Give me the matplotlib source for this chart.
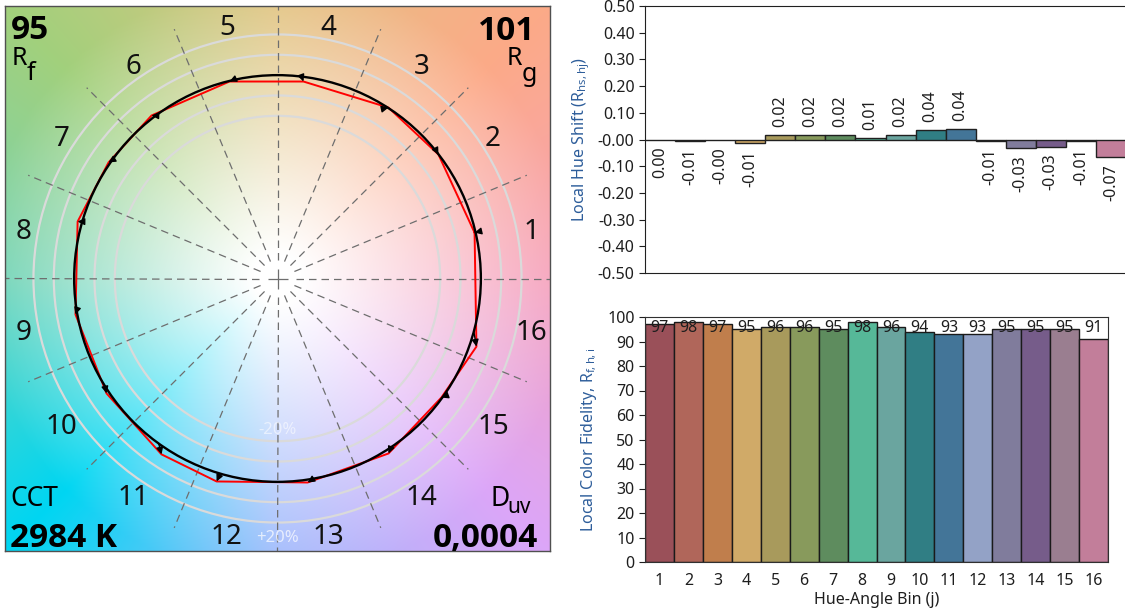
""" TM-30 colour vector graphic with local hue shift and local fidelity bars """

import numpy as np
import matplotlib
matplotlib.use("Agg")
import matplotlib.pyplot as plt
from matplotlib.colors import to_rgb
from matplotlib.patches import Circle, FancyArrowPatch

plt.rcParams['font.family'] = ['Noto Sans', 'DejaVu Sans']
plt.rcParams['axes.unicode_minus'] = False
plt.rcParams['mathtext.fontset'] = 'custom'
plt.rcParams['mathtext.rm'] = 'Noto Sans'
plt.rcParams['mathtext.it'] = 'Noto Sans'

BOLD = 'Open Sans'


#:::: Data
#:::::::::
bins = np.arange(1, 17)
fidelity = [97, 98, 97, 95, 96, 96, 95, 98, 96, 94, 93, 93, 95, 95, 95, 91]
hue_shift = [0.000, -0.006, -0.002, -0.012, 0.016, 0.016, 0.018, 0.006,
             0.018, 0.036, 0.041, -0.006, -0.032, -0.027, -0.006, -0.066]
bin_colors = ['#9a5059', '#b0665a', '#c07e4c', '#d0aa68', '#a89a5c', '#889a5c',
              '#5e8c5e', '#56b898', '#6aa59f', '#307e84', '#437598', '#93a2c6',
              '#807c9c', '#765c8a', '#9a7e90', '#c27e9a']

# test (red) points of the vector graphic, reference is the unit circle
test_angle = [13.1, 37.6, 57.0, 82.5, 103.7, 127.7, 145.5, 164.1,
              190.1, 213.9, 236.6, 253.3, 278.4, 302.4, 324.0, 341.1]
test_radius = [0.995, 0.999, 1.002, 0.977, 0.997, 1.013, 1.008, 1.022,
               1.009, 1.013, 1.036, 1.042, 1.014, 1.019, 0.996, 1.034]

rf_value = "95"
rg_value = "101"
cct_value = "2984 K"
duv_value = "0,0004"

# background hue colours around the graphic
bg_angles = [0, 45, 90, 135, 180, 225, 270, 315, 360]
bg_colors = ['#f6a2bc', '#fcaa88', '#e2c482', '#a2d07c', '#72d4b6',
             '#00d6f2', '#a0bafc', '#dca6f8', '#f6a2bc']

LIM = 1.34


def background():
    g = np.linspace(-LIM, LIM, 600)
    X, Y = np.meshgrid(g, g)
    ang = np.degrees(np.arctan2(Y, X)) % 360
    r = np.hypot(X, Y)
    rgb = np.array([to_rgb(c) for c in bg_colors])
    col = np.stack([np.interp(ang, bg_angles, rgb[:, i]) for i in range(3)], axis=-1)
    mix = np.clip((r - 0.12) / 1.35, 0, 1)[..., None]
    return 1 - mix * (1 - col)


fig = plt.figure(figsize=(11.25, 6.16), dpi=100)

#:::: Colour vector graphic
#::::::::::::::::::::::::::
ax = fig.add_axes([5 / 1125, 65 / 616, 545 / 1125, 545 / 616])
ax.imshow(background(), extent=(-LIM, LIM, -LIM, LIM), origin='lower',
          interpolation='bilinear', zorder=0)
ax.set_xlim(-LIM, LIM)
ax.set_ylim(-LIM, LIM)
ax.set_aspect('equal')
ax.set_xticks([])
ax.set_yticks([])
for s in ax.spines.values():
    s.set_color('#505050')
    s.set_linewidth(1)

for rad in [0.8, 0.9, 1.1, 1.2]:
    ax.add_patch(Circle((0, 0), rad, fill=False, ec='#dadada', lw=1.6, zorder=1))

for k in range(16):
    a = np.radians(k * 22.5)
    r_out = LIM if k % 4 == 0 else 1.327
    ax.plot([0.09 * np.cos(a), r_out * np.cos(a)], [0.09 * np.sin(a), r_out * np.sin(a)],
            color='#6e6e6e', lw=0.9, dashes=(6, 4), zorder=2)
ax.plot(0, 0, marker='+', ms=14, mew=0.9, color='#6e6e6e', zorder=2)

ta = np.radians(test_angle)
tx, ty = np.array(test_radius) * np.cos(ta), np.array(test_radius) * np.sin(ta)
ra = ta - np.array(hue_shift)
rx, ry = np.cos(ra), np.sin(ra)

ax.plot(np.append(tx, tx[0]), np.append(ty, ty[0]), color='#ff0000', lw=1.4, zorder=3)
ax.add_patch(Circle((0, 0), 1.0, fill=False, ec='black', lw=1.7, zorder=4))
for x0, y0, x1, y1 in zip(rx, ry, tx, ty):
    ax.add_patch(FancyArrowPatch((x0, y0), (x1, y1), arrowstyle='-|>', mutation_scale=10,
                                 color='black', lw=1.0, shrinkA=0, shrinkB=0, zorder=5))

for j in bins:
    a = np.radians((j - 0.5) * 22.5)
    ax.text(1.275 * np.cos(a), 1.275 * np.sin(a) - 0.02, str(j), fontsize=20,
            ha='center', va='center', color='#111111', zorder=6)

ax.text(0, -0.745, "-20%", fontsize=12, color='white', alpha=0.55,
        ha='center', va='center', zorder=6)
ax.text(0, -1.275, "+20%", fontsize=12, color='white', alpha=0.7,
        ha='center', va='center', zorder=6)

tr = ax.transAxes
ax.text(0.011, 0.939, rf_value, transform=tr, fontsize=24, fontweight='bold',
        family=BOLD, va='baseline')
ax.text(0.012, 0.892, "R", transform=tr, fontsize=18, va='baseline')
ax.text(0.040, 0.864, "f", transform=tr, fontsize=18, va='baseline')
ax.text(0.9725, 0.9376, rg_value, transform=tr, fontsize=24, fontweight='bold',
        family=BOLD, va='baseline', ha='right')
ax.text(0.921, 0.892, "R", transform=tr, fontsize=18, va='baseline')
ax.text(0.9486, 0.862, "g", transform=tr, fontsize=18, va='baseline')
ax.text(0.009, 0.0826, "CCT", transform=tr, fontsize=19, va='baseline')
ax.text(0.009, 0.0073, cct_value, transform=tr, fontsize=24, fontweight='bold',
        family=BOLD, va='baseline')
ax.text(0.890, 0.0826, "D", transform=tr, fontsize=19, va='baseline')
ax.text(0.9211, 0.0697, "uv", transform=tr, fontsize=15, va='baseline')
ax.text(0.978, 0.0073, duv_value, transform=tr, fontsize=24, fontweight='bold',
        family=BOLD, va='baseline', ha='right')

label_blue = '#2d5d9a'
tick_col = '#1e1e1e'

#:::: Local hue shift
#::::::::::::::::::::
ax1 = fig.add_axes([645 / 1125, 343 / 616, 481 / 1125, 267 / 616])
ax1.bar(bins, hue_shift, width=1.0, color=bin_colors, edgecolor='#202020', linewidth=1)
ax1.set_xlim(0.5, 16.5)
ax1.set_ylim(-0.5, 0.5)
hs_ticks = np.round(np.arange(-0.5, 0.51, 0.1), 2)
ax1.set_yticks(hs_ticks)
ax1.set_yticklabels([f"{v:.2f}" for v in hs_ticks])
ax1.set_xticks([])
ax1.tick_params(axis='y', labelsize=11.5, length=4, colors=tick_col)
ax1.set_ylabel(r"Local Hue Shift (R$_{\mathrm{hs,hj}}$)", fontsize=11.5,
               color=label_blue, labelpad=4)
for b, v in zip(bins, hue_shift):
    if v > 0:
        ax1.text(b, v + 0.03, f"{v:.2f}", rotation=90, ha='center', va='bottom',
                 fontsize=11.5, color=tick_col)
    else:
        ax1.text(b, v - 0.026, f"{v:.2f}", rotation=90, ha='center', va='top',
                 fontsize=11.5, color=tick_col)
for s in ax1.spines.values():
    s.set_color('#202020')

#:::: Local colour fidelity
#::::::::::::::::::::::::::
ax2 = fig.add_axes([645 / 1125, 54 / 616, 463 / 1125, 245 / 616])
ax2.bar(bins, fidelity, width=1.0, color=bin_colors, edgecolor='#1a1a1a', linewidth=1)
ax2.set_xlim(0.5, 16.5)
ax2.set_ylim(0, 100)
ax2.set_yticks(np.arange(0, 101, 10))
ax2.set_xticks(bins)
ax2.tick_params(axis='y', labelsize=11.5, length=4, colors=tick_col)
ax2.tick_params(axis='x', labelsize=11.5, length=0, pad=8, colors=tick_col)
ax2.set_ylabel(r"Local Color Fidelity, R$_{\mathrm{f,h,i}}$", fontsize=11.5,
               color=label_blue, labelpad=6)
ax2.set_xlabel("Hue-Angle Bin (j)", fontsize=11.5, color=tick_col, labelpad=2)
for b, v in zip(bins, fidelity):
    ax2.text(b, 95.7, str(v), ha='center', va='center', fontsize=11.5, color=tick_col)
for s in ax2.spines.values():
    s.set_color('#303030')

fig.savefig("out.png", dpi=100)
